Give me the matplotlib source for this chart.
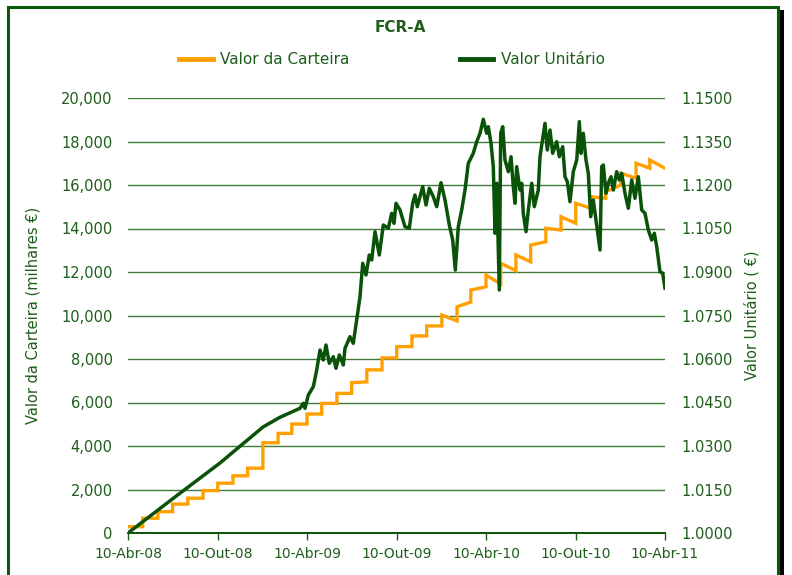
import matplotlib
matplotlib.use("Agg")
import matplotlib.pyplot as plt
from matplotlib.lines import Line2D
from matplotlib.patches import Rectangle
from matplotlib.ticker import FuncFormatter
import numpy as np
import pandas as pd

# ---- data ------------------------------------------------------------------
start_date = pd.Timestamp("2008-04-10")

# Valor da Carteira (milhares EUR): one step per month, value at start and end of each month
cart_start = [290, 680, 980, 1330, 1600, 1950, 2290, 2630, 2980, 4150, 4580, 5010,
              5470, 5960, 6420, 6910, 7500, 8050, 8570, 9060, 9520, 10020, 10400, 11170,
              11860, 12400, 12780, 13240, 14010, 14540, 15160, 15460, 15690, 16540, 17000, 17150]
cart_end = [290, 680, 980, 1330, 1600, 1950, 2290, 2630, 2980, 4150, 4580, 5010,
            5470, 5960, 6420, 6950, 7500, 8050, 8570, 9060, 9520, 9750, 10620, 11320,
            11450, 12060, 12470, 13390, 13930, 14240, 14930, 15390, 16000, 16310, 16770, 16770]

# Valor Unitario (EUR): days since 10-Abr-08 and value
unit_days = [0, 95.8, 187.6, 238.6, 275.3, 309.9, 350.7, 357.5, 360.9, 367.7,
             377.9, 384.8, 391.5, 398.2, 403.7, 410.5, 418.6, 424.1, 430.9, 439.0,
             442.5, 452.7, 459.4, 466.3, 473.1, 478.6, 485.3, 492.0, 496.9, 503.7,
             512.4, 520.6, 530.8, 537.7, 542.4, 546.5, 554.6, 564.8, 573.6, 580.5,
             585.2, 589.9, 600.9, 607.7, 614.4, 622.5, 629.5, 638.2, 646.4, 655.2,
             662.1, 667.4, 673.5, 680.4, 687.2, 693.9, 704.1, 711.0, 717.8, 724.5,
             731.4, 734.7, 740.2, 744.9, 748.4, 751.8, 757.1, 760.0, 764.1, 768.7,
             775.5, 781.0, 785.7, 789.1, 792.6, 799.3, 802.8, 806.0, 811.6, 816.3,
             823.2, 828.5, 836.6, 840.1, 850.3, 855.0, 860.5, 866.0, 874.2, 879.5,
             886.4, 891.1, 895.8, 901.3, 908.0, 915.0, 920.3, 923.7, 928.4, 933.9,
             938.6, 943.5, 948.8, 954.3, 959.0, 962.5, 965.9, 969.2, 974.7, 979.4,
             984.9, 989.6, 996.5, 1001.8, 1006.7, 1013.4, 1020.2, 1027.1, 1033.8, 1040.6,
             1047.5, 1054.2, 1061.0, 1067.9, 1073.2, 1078.1, 1084.8, 1090.3, 1095.0]
unit_vals = [1.0000, 1.01241, 1.02414, 1.03138, 1.03655, 1.03990, 1.04300, 1.04472, 1.04300, 1.04759,
             1.05045, 1.05621, 1.06310, 1.05966, 1.06483, 1.05852, 1.06079, 1.05679, 1.06138, 1.05793,
             1.06369, 1.06769, 1.06541, 1.07345, 1.08148, 1.09300, 1.08897, 1.09586, 1.09414, 1.10390,
             1.09586, 1.10621, 1.10507, 1.11024, 1.10679, 1.11369, 1.11138, 1.10562, 1.10507, 1.11369,
             1.11655, 1.11252, 1.11941, 1.11310, 1.11886, 1.11597, 1.11252, 1.12079, 1.11483, 1.10621,
             1.10103, 1.09069, 1.10562, 1.11138, 1.11828, 1.12748, 1.13093, 1.13493, 1.13783, 1.14266,
             1.13783, 1.14010, 1.13438, 1.12631, 1.10335, 1.12059, 1.08379, 1.13783, 1.14010, 1.12862,
             1.12459, 1.12976, 1.11941, 1.11369, 1.12631, 1.11828, 1.12059, 1.11024, 1.10390, 1.11138,
             1.12059, 1.11252, 1.11828, 1.12976, 1.14128, 1.13207, 1.13897, 1.13093, 1.13493, 1.12976,
             1.13321, 1.12286, 1.12114, 1.11424, 1.12459, 1.12862, 1.14183, 1.13093, 1.13783, 1.12862,
             1.12403, 1.10907, 1.11483, 1.10793, 1.10217, 1.09759, 1.12631, 1.12690, 1.11714, 1.12059,
             1.12286, 1.11828, 1.12459, 1.12172, 1.12403, 1.11714, 1.11197, 1.12172, 1.11541, 1.12286,
             1.11138, 1.11024, 1.10448, 1.10103, 1.10335, 1.09873, 1.09010, 1.08955, 1.08438]

x_ticks = ["2008-04-10", "2008-10-10", "2009-04-10", "2009-10-10",
           "2010-04-10", "2010-10-10", "2011-04-10"]
x_labels = ["10-Abr-08", "10-Out-08", "10-Abr-09", "10-Out-09",
            "10-Abr-10", "10-Out-10", "10-Abr-11"]
left_ticks = list(range(0, 20001, 2000))
right_ticks = [1.0, 1.015, 1.03, 1.045, 1.06, 1.075, 1.09, 1.105, 1.12, 1.135, 1.15]

# ---- styling ---------------------------------------------------------------
ORANGE = "#ffa000"
DKGREEN = "#0a5208"
TXT = "#1d5e1a"
GRID = "#3f7a38"

plt.rcParams["font.family"] = ["DejaVu Sans"]

fig = plt.figure(figsize=(7.92, 5.75), dpi=100)
ax = fig.add_axes([128 / 792, 1 - 533 / 575, (665 - 128) / 792, (533 - 98) / 575])
ax2 = ax.twinx()

# staircase vertices for the portfolio value
month_starts = pd.date_range("2008-04-01", periods=len(cart_start) + 1, freq="MS") + pd.Timedelta(days=9)
cx, cy = [], []
for i in range(len(cart_start)):
    cx += [month_starts[i], month_starts[i + 1]]
    cy += [cart_start[i], cart_end[i]]
ax.plot(cx, cy, color=ORANGE, lw=2.4, solid_joinstyle="miter", zorder=3)

unit_dates = start_date + pd.to_timedelta(np.array(unit_days), unit="D")
ax2.plot(unit_dates, unit_vals, color=DKGREEN, lw=2.5, zorder=3)

xmin, xmax = pd.Timestamp(x_ticks[0]), pd.Timestamp(x_ticks[-1])
ax.set_xlim(xmin, xmax)
ax.set_ylim(0, 20000)
ax2.set_ylim(1.0, 1.15)

ax.set_yticks(left_ticks)
ax.yaxis.set_major_formatter(FuncFormatter(lambda v, p: f"{v:,.0f}"))
ax2.set_yticks(right_ticks)
ax2.yaxis.set_major_formatter(FuncFormatter(lambda v, p: f"{v:.4f}"))
ax.set_xticks(pd.to_datetime(x_ticks))
ax.set_xticklabels(x_labels)

ax.grid(axis="y", color=GRID, lw=1.0)
ax.set_axisbelow(True)
for a in (ax, ax2):
    for s in ("top", "left", "right"):
        a.spines[s].set_visible(False)
    a.spines["bottom"].set_color(DKGREEN)
    a.spines["bottom"].set_linewidth(1.2)

ax.tick_params(axis="x", colors=TXT, labelsize=10, length=5, width=1.0, pad=5, direction="out")
ax.tick_params(axis="y", colors=TXT, labelsize=10.5, length=0, pad=11)
ax2.tick_params(axis="y", colors=TXT, labelsize=10.5, length=0, pad=12)

ax.set_ylabel("Valor da Carteira (milhares €)", color=TXT, fontsize=10.5, labelpad=15)
ax2.set_ylabel("Valor Unitário ( €)", color=TXT, fontsize=10.5, labelpad=8)

fig.text(400 / 792, 1 - 28 / 575, "FCR-A", ha="center", va="center",
         fontsize=11, fontweight="bold", color=TXT)

handles = [Line2D([], [], color=ORANGE, lw=3.5), Line2D([], [], color=DKGREEN, lw=3.5)]
fig.legend(handles, ["Valor da Carteira", "Valor Unitário"], loc="center",
           bbox_to_anchor=(392 / 792, 1 - 60 / 575), ncol=2, frameon=False,
           handlelength=2.2, handletextpad=0.5, columnspacing=7.2,
           labelcolor=TXT, fontsize=11)

# outer frame with shadow on the right
fig.patches.append(Rectangle((780 / 792, 0), 4 / 792, 1 - 10 / 575, transform=fig.transFigure,
                             facecolor="black", edgecolor="none", zorder=0))
fig.patches.append(Rectangle((8 / 792, -0.02), 770 / 792, 1.02 - 7 / 575, transform=fig.transFigure,
                             facecolor="none", edgecolor="#0a5a0a", lw=2.2, zorder=1))

fig.savefig("out.png", dpi=100)
